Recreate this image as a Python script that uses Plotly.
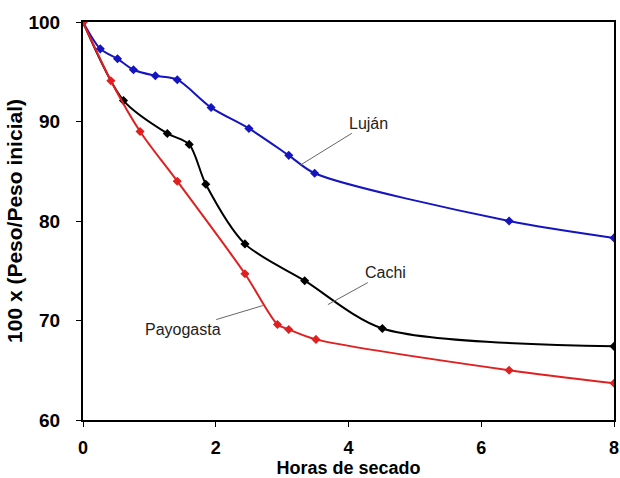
import plotly.graph_objects as go

# Horas de secado vs 100 x (Peso/Peso inicial)
lujan_x = [0, 0.26, 0.52, 0.76, 1.09, 1.42, 1.93, 2.50, 3.10, 3.49, 6.42, 8.0]
lujan_y = [100, 97.3, 96.3, 95.2, 94.6, 94.2, 91.4, 89.3, 86.6, 84.8, 80.0, 78.3]

cachi_x = [0, 0.61, 1.27, 1.60, 1.85, 2.44, 3.34, 4.51, 8.0]
cachi_y = [100, 92.1, 88.8, 87.7, 83.7, 77.7, 74.0, 69.2, 67.4]

payo_x = [0, 0.42, 0.86, 1.42, 2.44, 2.93, 3.10, 3.51, 6.42, 8.0]
payo_y = [100, 94.1, 89.0, 84.0, 74.7, 69.6, 69.1, 68.1, 65.0, 63.7]

FONT = "Liberation Sans, Arial, sans-serif"

fig = go.Figure()

for xs, ys, col, name in [(lujan_x, lujan_y, "#1414c0", "Luján"),
                          (cachi_x, cachi_y, "black", "Cachi"),
                          (payo_x, payo_y, "#e02020", "Payogasta")]:
    fig.add_trace(go.Scatter(x=xs, y=ys, name=name,
                             mode="lines+markers",
                             line=dict(color=col, width=2, shape="spline", smoothing=0.8),
                             marker=dict(symbol="diamond", size=7, color=col)))

# labels with leader lines
labels = [("Luján", 3.27, 85.6, 68, -42),
          ("Cachi", 3.69, 71.6, 58, -32),
          ("Payogasta", 2.71, 71.5, -80, 24)]
for txt, x, y, ax, ay in labels:
    fig.add_annotation(x=x, y=y, text=txt, showarrow=True, arrowhead=0,
                       arrowwidth=1, arrowcolor="#666666", ax=ax, ay=ay,
                       font=dict(family=FONT, size=16, color="#222222"))

fig.update_xaxes(range=[0, 8], tickvals=[0, 2, 4, 6, 8],
                 showline=True, linecolor="black", linewidth=2, mirror=True,
                 ticks="outside", ticklen=5, tickcolor="black", tickwidth=1,
                 ticklabelstandoff=5, ticklabeloverflow="allow",
                 showgrid=False, zeroline=False,
                 tickfont=dict(family=FONT, size=18, color="black", weight="bold"),
                 title=dict(text="<b>Horas de secado</b>", standoff=6,
                            font=dict(family=FONT, size=18, color="black")))
fig.update_yaxes(range=[60, 100], tickvals=[60, 70, 80, 90, 100],
                 showline=True, linecolor="black", linewidth=2, mirror=True,
                 ticks="outside", ticklen=5, tickcolor="black", tickwidth=1,
                 ticklabelstandoff=12,
                 showgrid=False, zeroline=False,
                 tickfont=dict(family=FONT, size=19, color="black", weight="bold"),
                 title=dict(text="<b>100 x (Peso/Peso inicial)</b>", standoff=0,
                            font=dict(family=FONT, size=21, color="black")))

fig.update_layout(width=620, height=478,
                  margin=dict(l=83, r=6, t=22, b=58, autoexpand=False),
                  paper_bgcolor="white", plot_bgcolor="white",
                  showlegend=False)

fig.write_html("out.html", config={"displayModeBar": False},
               post_script="document.body.style.margin='0';")
